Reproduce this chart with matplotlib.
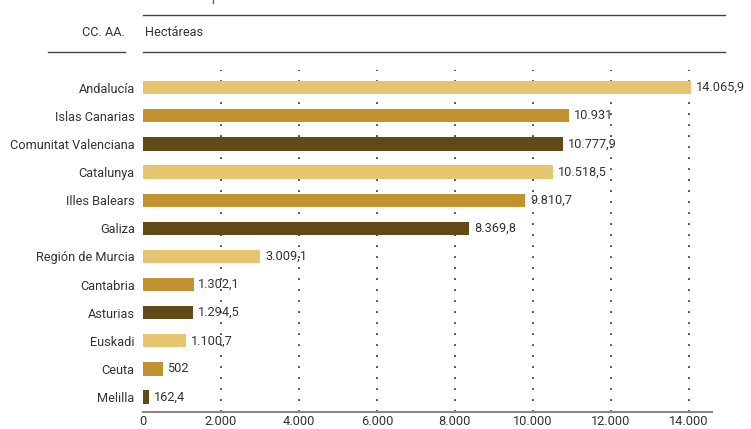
import matplotlib
matplotlib.use("Agg")
import matplotlib.pyplot as plt
from matplotlib.lines import Line2D

plt.rcParams['font.family'] = ['Roboto', 'Liberation Sans', 'DejaVu Sans']

regions = ["Andalucía", "Islas Canarias", "Comunitat Valenciana", "Catalunya",
           "Illes Balears", "Galiza", "Región de Murcia", "Cantabria",
           "Asturias", "Euskadi", "Ceuta", "Melilla"]
hectares = [14065.9, 10931, 10777.9, 10518.5, 9810.7, 8369.8, 3009.1,
            1302.1, 1294.5, 1100.7, 502, 162.4]
value_labels = ["14.065,9", "10.931", "10.777,9", "10.518,5", "9.810,7", "8.369,8",
                "3.009,1", "1.302,1", "1.294,5", "1.100,7", "502", "162,4"]
xticks = [0, 2000, 4000, 6000, 8000, 10000, 12000, 14000]
xtick_labels = ["0", "2.000", "4.000", "6.000", "8.000", "10.000", "12.000", "14.000"]
palette = ["#E6C470", "#C39230", "#624A17"]

FS = 9.2
W, H = 751, 429
fig = plt.figure(figsize=(W / 100, H / 100), dpi=100)
# axes: x from 143 to 712 px, y from 70 to 412 px
ax = fig.add_axes([143 / W, 1 - 412 / H, (712 - 143) / W, (412 - 70) / H])

n = len(regions)
ypos = list(range(n))
colors = [palette[i % 3] for i in range(n)]
ax.barh(ypos, hectares, height=0.47, color=colors, zorder=2)
ax.set_ylim(n - 1 + 0.53, -0.63)
ax.set_xlim(0, 14600)

for x in xticks[1:]:
    ax.axvline(x, color="#222222", lw=1.1, ls=(0, (1.2, 6)), zorder=1)

for y, v, lab in zip(ypos, hectares, value_labels):
    ax.text(v + 120, y, lab, va="center", ha="left", fontsize=FS, color="#333333", zorder=3)

ax.set_yticks(ypos)
ax.set_yticklabels(regions, fontsize=FS, color="#333333")
ax.set_xticks(xticks)
ax.set_xticklabels(xtick_labels, fontsize=FS, color="#333333")
ax.tick_params(axis="both", length=0)
ax.tick_params(axis="y", pad=6)
ax.tick_params(axis="x", pad=2.5)
for s in ["top", "right", "left"]:
    ax.spines[s].set_visible(False)
ax.spines["bottom"].set_color("#888888")
ax.spines["bottom"].set_linewidth(1.5)

# header
def hline(x0, x1, y, color="#444444", lw=1.0):
    fig.add_artist(Line2D([x0 / W, x1 / W], [1 - y / H, 1 - y / H], color=color, lw=lw))

hline(143, 725, 15)
hline(48, 125, 52)
hline(143, 725, 52)
fig.text(125 / W, 1 - 33 / H, "CC. AA.", ha="right", va="center", fontsize=FS, color="#333333")
fig.text(145 / W, 1 - 33 / H, "Hectáreas", ha="left", va="center", fontsize=FS, color="#333333")
fig.add_artist(Line2D([213 / W, 213 / W], [1 - 0 / H, 1 - 3 / H], color="#666666", lw=1))

fig.savefig("out.png", dpi=100)
